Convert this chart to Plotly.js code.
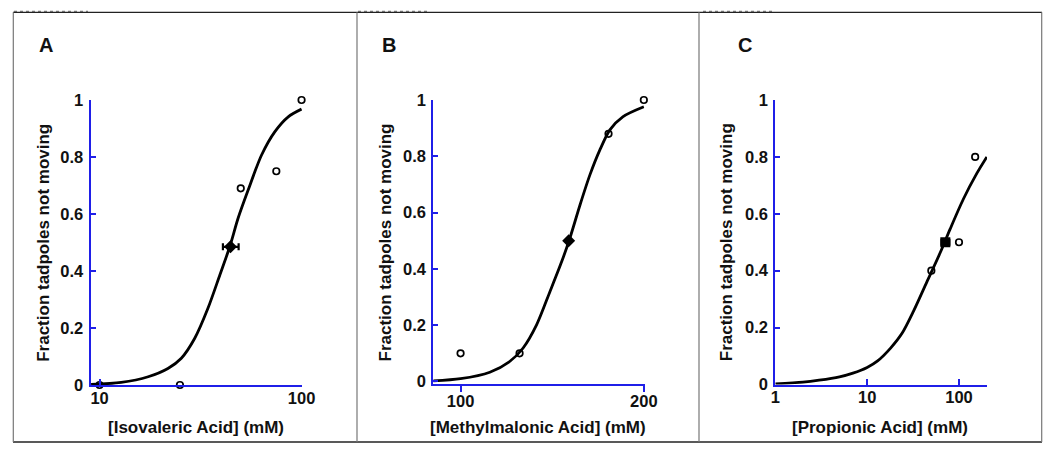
<!DOCTYPE html>
<html>
<head>
<meta charset="utf-8">
<script src="https://cdn.plot.ly/plotly-3.0.1.min.js"></script>
<style>
html,body{margin:0;padding:0;background:#fff;}
#chart{width:1050px;height:457px;}
</style>
</head>
<body>
<div id="chart"></div>
<script>
// ---------- data ----------
// Panel A: isovaleric acid
const aPointsX = [10, 25, 50, 75, 100];
const aPointsY = [0, 0, 0.69, 0.75, 1.0];
const aEC50X = [44.5];
const aEC50Y = [0.485];
const aEC50ErrPlus = [4.3];
const aEC50ErrMinus = [3.7];
const aCurveX = [9.08, 12.8, 17.4, 21.8, 25.4, 29.6, 34.4, 39.4, 44.1, 48.5, 54.4, 63.4, 73.8, 85.9, 100];
const aCurveY = [0.002, 0.009, 0.029, 0.058, 0.094, 0.164, 0.269, 0.386, 0.485, 0.585, 0.684, 0.807, 0.889, 0.941, 0.968];

// Panel B: methylmalonic acid
const bPointsX = [100, 125, 175, 200];
const bPointsY = [0.1, 0.1, 0.88, 1.0];
const bEC50X = [150.5];
const bEC50Y = [0.5];
const bCurveX = [90.2, 100, 111.7, 120.4, 126.7, 133.3, 140.2, 146.6, 151.2, 157.1, 163.1, 169.3, 175.9, 184.9, 200];
const bCurveY = [0.002, 0.01, 0.033, 0.071, 0.119, 0.201, 0.319, 0.426, 0.509, 0.627, 0.734, 0.822, 0.894, 0.941, 0.976];

// Panel C: propionic acid
const cPointsX = [50, 100, 150];
const cPointsY = [0.4, 0.5, 0.8];
const cEC50X = [71];
const cEC50Y = [0.5];
const cEC50ErrPlus = [7.5];
const cEC50ErrMinus = [6.5];
const cCurveX = [1, 2, 3, 5, 7, 10, 13, 18, 24, 32, 44.6, 62.2, 80, 111.7, 156.3, 201];
const cCurveY = [0.002, 0.008, 0.015, 0.027, 0.040, 0.060, 0.083, 0.128, 0.180, 0.258, 0.360, 0.462, 0.546, 0.652, 0.742, 0.80];

// tick labels
const yTickVals = [0, 0.2, 0.4, 0.6, 0.8, 1];
const yTickText = ['0', '0.2', '0.4', '0.6', '0.8', '1'];
const aXTickVals = [10, 100];
const aXTickText = ['10', '100'];
const bXTickVals = [100, 200];
const bXTickText = ['100', '200'];
const cXTickVals = [1, 10, 100];
const cXTickText = ['1', '10', '100'];

const panelLetters = ['A', 'B', 'C'];
const yTitle = 'Fraction tadpoles not moving';
const xTitles = ['[Isovaleric Acid] (mM)', '[Methylmalonic Acid] (mM)', '[Propionic Acid] (mM)'];

// ---------- styling ----------
const W = 1050, H = 457;
const px = v => v / W;
const py = v => 1 - v / H;
const FONT = 'Liberation Sans, Arial, Helvetica, sans-serif';
const BLUE = '#1f1fe8';
const INK = '#111111';

function curve(x, y, xa, ya) {
  return {x: x, y: y, xaxis: xa, yaxis: ya, mode: 'lines', type: 'scatter',
    line: {color: '#000', width: 2.8, shape: 'spline', smoothing: 0.8},
    cliponaxis: false, hoverinfo: 'skip', showlegend: false};
}
function pts(x, y, xa, ya) {
  return {x: x, y: y, xaxis: xa, yaxis: ya, mode: 'markers', type: 'scatter',
    marker: {symbol: 'circle-open', size: 6.5, color: '#000', line: {width: 1.7, color: '#000'}},
    cliponaxis: false, showlegend: false};
}
function ec50(x, y, xa, ya, sym, plus, minus) {
  const t = {x: x, y: y, xaxis: xa, yaxis: ya, mode: 'markers', type: 'scatter',
    marker: {symbol: sym, size: 10, color: '#000'},
    cliponaxis: false, showlegend: false};
  if (plus) {
    t.error_x = {type: 'data', symmetric: false, array: plus, arrayminus: minus,
      color: '#000', thickness: 2.2, width: 3.5};
  }
  return t;
}

const data = [
  curve(aCurveX, aCurveY, 'x', 'y'),
  pts(aPointsX, aPointsY, 'x', 'y'),
  ec50(aEC50X, aEC50Y, 'x', 'y', 'diamond', aEC50ErrPlus, aEC50ErrMinus),
  curve(bCurveX, bCurveY, 'x2', 'y2'),
  pts(bPointsX, bPointsY, 'x2', 'y2'),
  ec50(bEC50X, bEC50Y, 'x2', 'y2', 'diamond', null, null),
  curve(cCurveX, cCurveY, 'x3', 'y3'),
  pts(cPointsX, cPointsY, 'x3', 'y3'),
  ec50(cEC50X, cEC50Y, 'x3', 'y3', 'square', cEC50ErrPlus, cEC50ErrMinus)
];

const tickFont = {family: FONT, size: 16.5, color: INK, weight: 'bold'};

function xAxis(dom, range, vals, text, ticks, standoff) {
  return {domain: [px(dom[0]), px(dom[1])], type: 'log', range: range,
    tickvals: vals, ticktext: text, ticks: ticks, ticklen: 6, tickwidth: 2, tickcolor: BLUE,
    showline: true, linecolor: BLUE, linewidth: 2, showgrid: false, zeroline: false,
    tickfont: tickFont, fixedrange: true, ticklabelstandoff: standoff};
}
function yAxis(dom, range, anchor) {
  return {domain: [py(dom[1]), py(dom[0])], range: range, anchor: anchor,
    tickvals: yTickVals, ticktext: yTickText, ticks: 'inside', ticklen: 5, tickwidth: 2, tickcolor: BLUE,
    showline: true, linecolor: BLUE, linewidth: 2, showgrid: false, zeroline: false,
    tickfont: tickFont, fixedrange: true, ticklabelstandoff: 2};
}

const layout = {
  width: W, height: H,
  margin: {l: 0, r: 0, t: 0, b: 0, pad: 0},
  paper_bgcolor: '#fff', plot_bgcolor: 'rgba(0,0,0,0)',
  showlegend: false,
  font: {family: FONT, color: INK},
  xaxis:  Object.assign(xAxis([90.5, 302], [Math.log10(9.02), Math.log10(100.5)], aXTickVals, aXTickText, 'inside', -3), {anchor: 'y'}),
  yaxis:  yAxis([100, 385], [0, 1], 'x'),
  xaxis2: Object.assign(xAxis([433.3, 644.5], [Math.log10(90.2), Math.log10(200.5)], bXTickVals, bXTickText, 'outside', -5), {anchor: 'y2'}),
  yaxis2: yAxis([100, 384.3], [-0.01, 1], 'x2'),
  xaxis3: Object.assign(xAxis([775.3, 987], [0, 2.305], cXTickVals, cXTickText, 'inside', -3), {anchor: 'y3'}),
  yaxis3: yAxis([100, 384.5], [0, 1], 'x3'),
  shapes: [
    // panel frames
    {type: 'line', xref: 'paper', yref: 'paper', x0: px(13), x1: px(1042), y0: py(12.3), y1: py(12.3), line: {color: '#222', width: 1.3}},
    {type: 'line', xref: 'paper', yref: 'paper', x0: px(13), x1: px(1042), y0: py(442), y1: py(442), line: {color: '#222', width: 1.3}},
    {type: 'line', xref: 'paper', yref: 'paper', x0: px(13.3), x1: px(13.3), y0: py(12.3), y1: py(442), line: {color: '#777', width: 1.2}},
    {type: 'line', xref: 'paper', yref: 'paper', x0: px(357), x1: px(357), y0: py(12.3), y1: py(442), line: {color: '#777', width: 1.2}},
    {type: 'line', xref: 'paper', yref: 'paper', x0: px(699), x1: px(699), y0: py(12.3), y1: py(442), line: {color: '#777', width: 1.2}},
    {type: 'line', xref: 'paper', yref: 'paper', x0: px(1041.7), x1: px(1041.7), y0: py(12.3), y1: py(442), line: {color: '#777', width: 1.2}},
    // small dotted marks at top-left of each panel
    {type: 'line', xref: 'paper', yref: 'paper', x0: px(14), x1: px(88), y0: py(11.3), y1: py(11.3), line: {color: '#555', width: 1, dash: 'dot'}},
    {type: 'line', xref: 'paper', yref: 'paper', x0: px(358), x1: px(430), y0: py(11.3), y1: py(11.3), line: {color: '#555', width: 1, dash: 'dot'}},
    {type: 'line', xref: 'paper', yref: 'paper', x0: px(703), x1: px(772), y0: py(11.3), y1: py(11.3), line: {color: '#555', width: 1, dash: 'dot'}}
  ],
  annotations: []
};

const letterX = [46, 389.3, 745];
const yTitleX = [43.3, 385, 726.7];
const xTitleX = [196, 537.5, 880];
for (let i = 0; i < 3; i++) {
  layout.annotations.push({text: panelLetters[i], xref: 'paper', yref: 'paper', x: px(letterX[i]), y: py(45),
    xanchor: 'center', yanchor: 'middle', showarrow: false,
    font: {family: FONT, size: 20, color: INK, weight: 'bold'}});
  layout.annotations.push({text: yTitle, xref: 'paper', yref: 'paper', x: px(yTitleX[i]), y: py(242.5),
    xanchor: 'center', yanchor: 'middle', textangle: -90, showarrow: false,
    font: {family: FONT, size: 17, color: INK, weight: 'bold'}});
  layout.annotations.push({text: xTitles[i], xref: 'paper', yref: 'paper', x: px(xTitleX[i]), y: py(427),
    xanchor: 'center', yanchor: 'middle', showarrow: false,
    font: {family: FONT, size: 17, color: INK, weight: 'bold'}});
}

Plotly.newPlot('chart', data, layout, {displayModeBar: false, staticPlot: true});
</script>
</body>
</html>
